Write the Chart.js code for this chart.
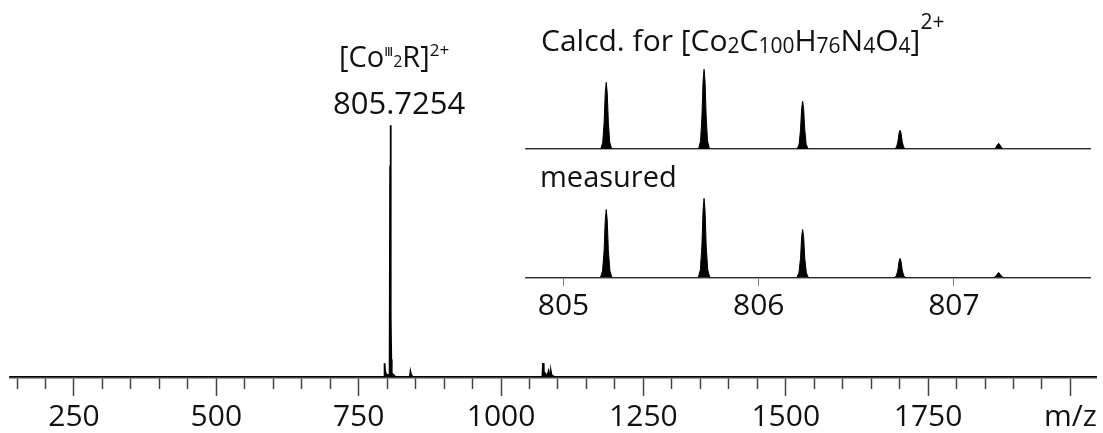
<!DOCTYPE html>
<html><head><meta charset="utf-8">
<script src="https://cdn.jsdelivr.net/npm/chart.js@4/dist/chart.umd.min.js"></script>
<style>
html,body{margin:0;padding:0;background:#fff;}
#wrap{position:relative;width:1103px;height:433px;overflow:hidden;font-family:"Open Sans",sans-serif;color:#111;}
canvas{position:absolute;left:0;}
.t{position:absolute;white-space:nowrap;line-height:1;}
.s{position:relative;line-height:0;}
</style></head><body>
<div id="wrap">
<canvas id="main" width="1103" height="440" style="top:0;width:1103px;height:440px"></canvas>
<canvas id="calc" width="1103" height="160" style="top:0;width:1103px;height:160px"></canvas>
<canvas id="meas" width="1103" height="273" style="top:160px;width:1103px;height:273px"></canvas>
<div class="t" style="font-size:29px;left:339px;top:41px">[Co<span class="s" style="font-size:13px;top:-11px;font-family:'DejaVu Sans'">Ⅲ</span><span class="s" style="font-size:16px;top:0px">2</span>R]<span class="s" style="font-size:17px;top:-11px">2+</span></div>
<div class="t" style="font-size:31px;left:333px;top:87px">805.7254</div>
<div class="t" style="font-size:30px;left:541px;top:25px">Calcd. for [Co<span class="s" style="font-size:21px;top:2px">2</span>C<span class="s" style="font-size:21px;top:2px">100</span>H<span class="s" style="font-size:21px;top:2px">76</span>N<span class="s" style="font-size:21px;top:2px">4</span>O<span class="s" style="font-size:21px;top:2px">4</span>]<span class="s" style="font-size:21px;top:-22px">2+</span></div>
<div class="t" style="font-size:29px;left:540px;top:161px">measured</div>
</div>
<script>
// Full spectrum (m/z, relative intensity)
const specMz  = [137, 794.5, 795.5, 796.3, 798, 801, 804.3, 805.22, 805.73, 806.22, 806.72, 807.23, 808, 810, 813, 816, 839.8, 840.9, 842, 844.5, 846, 1072.6, 1073.7, 1075, 1077, 1079, 1081.5, 1083.6, 1085, 1086.5, 1087.7, 1089, 1092, 1095, 2050];
const specInt = [0, 0, 5.5, 2.5, 1.2, 0.8, 0.6, 84, 100, 60, 24, 7, 1.5, 1, 0.4, 0, 0, 2, 0.8, 0.2, 0, 0, 5.5, 2.2, 1.5, 1.0, 0.8, 2.4, 1, 0.9, 2, 0.6, 0.3, 0, 0];

// Calculated isotope pattern
const calcMz = [804.80,
  805.191, 805.201, 805.208, 805.214, 805.219, 805.224, 805.230, 805.237, 805.247,
  805.692, 805.702, 805.709, 805.715, 805.720, 805.725, 805.731, 805.738, 805.748,
  806.197, 806.207, 806.214, 806.220, 806.225, 806.230, 806.236, 806.243, 806.253,
  806.696, 806.706, 806.713, 806.719, 806.724, 806.729, 806.735, 806.742, 806.752,
  807.205, 807.215, 807.222, 807.229, 807.236, 807.243, 807.253,
  807.71];
const calcInt = [0,
  0, 8.4, 33, 71, 83.6, 71, 33, 8.4, 0,
  0, 10, 40, 85, 100, 85, 40, 10, 0,
  0, 6, 24, 51, 60, 51, 24, 6, 0,
  0, 2.4, 9.4, 20, 23.5, 20, 9.4, 2.4, 0,
  0, 2, 5, 7.2, 5, 2, 0,
  0];

// Measured isotope pattern
const measMz = [804.80,
  805.189, 805.200, 805.208, 805.214, 805.219, 805.224, 805.230, 805.238, 805.249,
  805.690, 805.701, 805.709, 805.715, 805.720, 805.725, 805.731, 805.739, 805.750,
  806.195, 806.206, 806.214, 806.220, 806.225, 806.230, 806.236, 806.244, 806.255,
  806.694, 806.705, 806.713, 806.719, 806.724, 806.729, 806.735, 806.743, 806.754,
  807.203, 807.214, 807.222, 807.229, 807.236, 807.244, 807.255,
  807.71];
const measInt = [0,
  0, 8.6, 34, 73, 86, 73, 34, 8.6, 0,
  0, 10, 40, 85, 100, 85, 40, 10, 0,
  0, 6.1, 24.3, 52, 60.8, 52, 24.3, 6.1, 0,
  0, 2.4, 9.8, 20.7, 24.4, 20.7, 9.8, 2.4, 0,
  0, 1.9, 4.7, 6.7, 4.7, 1.9, 0,
  0];

// Tick values and labels
const mainMinorTicks = [150,200,250,300,350,400,450,500,550,600,650,700,750,800,850,900,950,1000,1050,1100,1150,1200,1250,1300,1350,1400,1450,1500,1550,1600,1650,1700,1750,1800,1850,1900,1950,2000];
const mainMajorTicks = [250,500,750,1000,1250,1500,1750,2000];
const mainMajorLabels = ['250','500','750','1000','1250','1500','1750','m/z'];
const insetTicks = [805, 806, 807];
const insetLabels = ['805', '806', '807'];

const FONT = '"Open Sans", sans-serif';
const toPts = (xs, ys) => xs.map((x, i) => ({x: x, y: ys[i]}));
const setTicks = values => scale => { scale.ticks = values.map(v => ({value: v})); };
const baseOpts = {
  responsive: false, animation: false, events: [],
  plugins: {legend: {display: false}, tooltip: {enabled: false}}
};
const ds = (pts, bw) => ({data: pts, borderColor: '#000', backgroundColor: '#000', borderWidth: bw, fill: 'origin', pointRadius: 0, tension: 0});

new Chart(document.getElementById('main'), {
  type: 'line',
  data: {datasets: [ds(toPts(specMz, specInt), 1.8)]},
  options: Object.assign({}, baseOpts, {
    layout: {padding: {left: 10, right: 0, top: 0, bottom: 2}},
    scales: {
      x: {type: 'linear', min: 137.6, max: 2046.5, position: 'bottom', weight: 0,
        afterBuildTicks: setTicks(mainMinorTicks),
        grid: {display: true, drawOnChartArea: false, drawTicks: true, tickLength: 12, tickColor: '#444', tickWidth: 1.5},
        border: {display: true, color: '#444', width: 2.5},
        ticks: {display: false}},
      x2: {type: 'linear', min: 137.6, max: 2046.5, position: 'bottom', weight: 1,
        afterBuildTicks: setTicks(mainMajorTicks),
        grid: {display: true, drawOnChartArea: false, drawTicks: true, tickLength: 7, tickColor: '#444', tickWidth: 1.5},
        border: {display: false},
        ticks: {display: true, padding: 6, color: '#111', autoSkip: false, maxRotation: 0,
          font: {family: FONT, size: 30, lineHeight: 1},
          callback: (v, i) => mainMajorLabels[i]}},
      y: {display: false, min: 0, max: 149.8}
    }
  })
});

new Chart(document.getElementById('calc'), {
  type: 'line',
  data: {datasets: [ds(toPts(calcMz, calcInt), 1)]},
  options: Object.assign({}, baseOpts, {
    layout: {padding: {left: 526, right: 12.4, top: 49.4, bottom: 11}},
    scales: {
      x: {type: 'linear', min: 804.808, max: 807.70,
        grid: {display: false, drawTicks: false},
        border: {display: true, color: '#555', width: 1.5},
        ticks: {display: false}},
      y: {display: false, min: 0, max: 125}
    }
  })
});

new Chart(document.getElementById('meas'), {
  type: 'line',
  data: {datasets: [ds(toPts(measMz, measInt), 1)]},
  options: Object.assign({}, baseOpts, {
    layout: {padding: {left: 526, right: 12.4, top: 20, bottom: 105.2}},
    scales: {
      x: {type: 'linear', min: 804.808, max: 807.70,
        afterBuildTicks: setTicks(insetTicks),
        grid: {display: true, drawOnChartArea: false, drawTicks: true, tickLength: 8, tickColor: '#777', tickWidth: 1},
        border: {display: true, color: '#555', width: 1.5},
        ticks: {display: true, padding: 6, color: '#111', autoSkip: false, maxRotation: 0,
          font: {family: FONT, size: 30, lineHeight: 1},
          callback: (v, i) => insetLabels[i]}},
      y: {display: false, min: 0, max: 123.2}
    }
  })
});
</script>
</body></html>
